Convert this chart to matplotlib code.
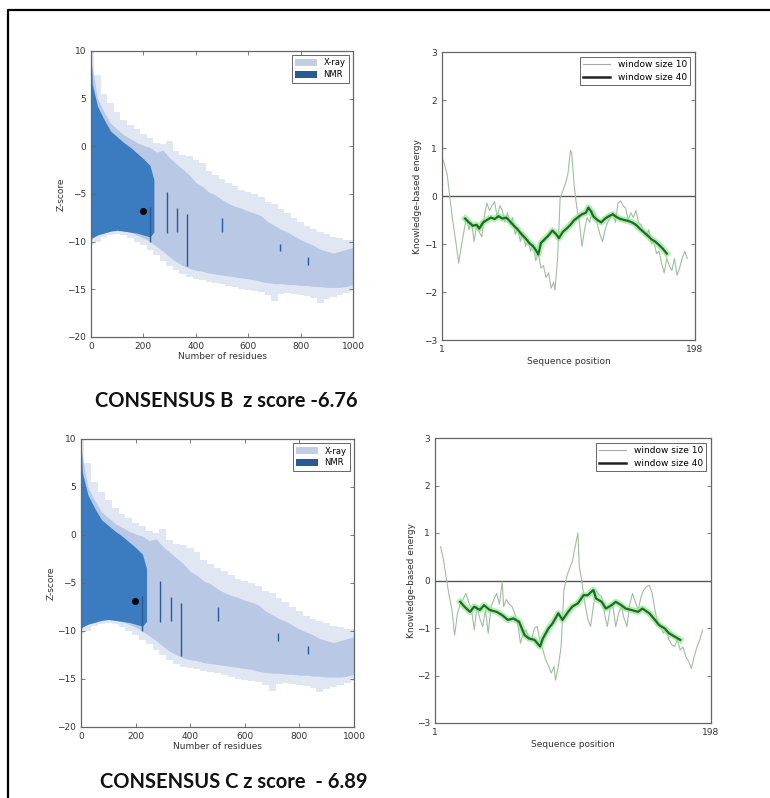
import numpy as np
import matplotlib
matplotlib.use('Agg')
import matplotlib.pyplot as plt
from matplotlib.patches import Patch
from matplotlib.lines import Line2D
import matplotlib.patheffects as pe

# ---- z-score background (PDB structures), same for both models ----
res_grid = [0, 25, 50, 75, 100, 125, 150, 175, 200, 225, 250, 275, 300, 325, 350,
            375, 400, 425, 450, 475, 500, 525, 550, 575, 600, 625, 650, 675, 700,
            725, 750, 775, 800, 825, 850, 875, 900, 925, 950, 975, 1000]
xray_top = [9.0, 5.0, 3.6, 2.4, 1.8, 1.2, 0.8, 0.4, 0.1, -0.1, -0.6, -0.4, -1.2, -1.8,
            -2.4, -3.0, -3.8, -4.2, -4.8, -5.1, -5.6, -6.0, -6.3, -6.5, -6.8, -7.0,
            -7.3, -7.9, -8.3, -8.7, -9.0, -9.4, -9.8, -10.1, -10.4, -10.8, -11.0,
            -11.2, -11.0, -10.8, -10.6]
xray_bottom = [-9.5, -9.2, -9.0, -8.8, -8.7, -8.8, -9.0, -9.3, -9.6, -10.0, -10.5,
               -11.0, -11.6, -12.1, -12.5, -12.8, -13.0, -13.1, -13.3, -13.4, -13.5,
               -13.6, -13.7, -13.8, -13.9, -14.0, -14.2, -14.3, -14.4, -14.4, -14.5,
               -14.5, -14.6, -14.6, -14.7, -14.7, -14.8, -14.8, -14.8, -14.7, -14.5]
# scattered outliers around the dense band
fringe_top = [10.0, 7.5, 5.5, 4.5, 3.6, 2.8, 2.2, 1.8, 1.3, 0.9, 0.4, 0.2, 0.6, -0.5,
              -0.9, -1.0, -1.4, -1.8, -2.6, -3.0, -3.4, -3.8, -4.2, -4.6, -4.8, -5.0,
              -5.3, -5.8, -6.0, -6.6, -7.0, -7.5, -7.9, -8.4, -8.7, -9.0, -9.2, -9.5,
              -9.6, -9.8, -9.8]
fringe_bottom = [-10.3, -10.0, -9.5, -9.3, -9.2, -9.3, -9.6, -10.0, -10.4, -10.9,
                 -11.4, -12.0, -12.5, -13.0, -13.4, -13.7, -13.9, -14.0, -14.2, -14.3,
                 -14.4, -14.6, -14.8, -15.0, -15.1, -15.2, -15.3, -15.6, -16.2, -15.5,
                 -15.4, -15.5, -15.6, -15.7, -15.9, -16.4, -16.0, -15.8, -15.6, -15.4,
                 -15.2]
nmr_grid = [0, 5, 25, 50, 75, 100, 125, 150, 175, 200, 225, 240]
nmr_top = [10.0, 6.5, 4.2, 2.8, 1.6, 1.0, 0.4, -0.1, -0.7, -1.3, -2.0, -3.5]
nmr_bottom = [-9.8, -9.6, -9.3, -9.1, -8.9, -8.8, -8.9, -9.0, -9.1, -9.3, -9.5, -9.0]
streak_x = [225, 290, 330, 368, 500, 720, 830]
streak_top = [-6.4, -4.8, -6.5, -7.1, -7.5, -10.2, -11.6]
streak_bottom = [-10.0, -9.1, -9.0, -12.6, -9.0, -11.0, -12.4]

n_residues = 198
zscore_b = -6.76
zscore_c = -6.89

# ---- local energy profiles ----
b_w10_pos = [2, 5, 7, 9, 12, 14, 16, 18, 20, 22, 24, 26, 28, 30, 32, 34, 36, 38, 40,
             42, 44, 46, 48, 50, 52, 54, 56, 58, 60, 62, 64, 66, 68, 70, 72, 74, 76,
             78, 80, 82, 84, 86, 88, 89, 91, 93, 95, 97, 99, 101, 102, 104, 106, 108,
             110, 112, 114, 116, 118, 120, 122, 124, 126, 128, 130, 132, 134, 136,
             138, 140, 142, 144, 146, 148, 150, 152, 154, 156, 158, 160, 162, 164,
             166, 168, 170, 172, 174, 176, 178, 180, 182, 184, 186, 188, 190, 192]
b_w10 = [0.75, 0.45, 0.0, -0.45, -1.0, -1.4, -1.05, -0.75, -0.45, -0.7, -0.55, -0.95,
         -0.6, -0.75, -0.85, -0.4, -0.15, -0.3, -0.2, -0.12, -0.45, -0.2, -0.3, -0.55,
         -0.35, -0.6, -0.45, -0.8, -0.65, -0.95, -0.75, -1.05, -0.9, -1.15, -1.0,
         -1.35, -1.2, -1.5, -1.45, -1.7, -1.6, -1.92, -1.8, -1.96, -1.3, -0.05, 0.1,
         0.25, 0.45, 0.95, 0.9, 0.2, -0.25, -0.55, -1.05, -0.7, -0.45, -0.55, -0.3,
         -0.35, -0.6, -0.8, -0.95, -0.7, -0.55, -0.45, -0.35, -0.55, -0.15, -0.1,
         -0.2, -0.25, -0.5, -0.35, -0.45, -0.3, -0.55, -0.6, -0.75, -0.85, -0.7,
         -1.0, -0.95, -1.2, -1.15, -1.4, -1.6, -1.3, -1.45, -1.55, -1.3, -1.65, -1.5,
         -1.3, -1.15, -1.3]
b_w40_pos = [19, 22, 25, 28, 30, 33, 36, 39, 42, 45, 48, 51, 54, 57, 60, 63, 66, 69,
             72, 74, 76, 78, 81, 84, 87, 90, 92, 95, 98, 101, 104, 107, 110, 113, 115,
             117, 119, 122, 125, 128, 131, 134, 137, 140, 143, 146, 149, 152, 155,
             158, 161, 164, 167, 170, 173, 176]
b_w40 = [-0.47, -0.55, -0.62, -0.6, -0.68, -0.55, -0.5, -0.45, -0.48, -0.42, -0.47,
         -0.45, -0.53, -0.62, -0.7, -0.8, -0.88, -0.98, -1.05, -1.12, -1.22, -0.98,
         -0.9, -0.82, -0.72, -0.8, -0.88, -0.75, -0.68, -0.6, -0.5, -0.44, -0.38,
         -0.35, -0.24, -0.32, -0.43, -0.5, -0.55, -0.47, -0.42, -0.38, -0.44, -0.48,
         -0.5, -0.52, -0.55, -0.6, -0.68, -0.75, -0.82, -0.9, -0.95, -1.02, -1.1, -1.2]

c_w10_pos = [5, 7, 9, 11, 13, 15, 17, 19, 21, 23, 25, 27, 29, 31, 33, 35, 37, 39, 41,
             43, 45, 47, 49, 50, 52, 54, 56, 58, 60, 62, 64, 66, 68, 70, 72, 74, 76,
             78, 80, 82, 84, 86, 87, 89, 91, 93, 95, 97, 99, 101, 103, 104, 106, 108,
             110, 112, 114, 116, 118, 120, 122, 124, 126, 128, 130, 132, 134, 136,
             138, 140, 142, 144, 146, 148, 150, 152, 154, 156, 158, 160, 162, 164,
             166, 168, 170, 172, 174, 176, 178, 180, 182, 184, 186, 188, 190, 192]
c_w10 = [0.71, 0.45, 0.05, -0.3, -0.6, -1.15, -0.7, -0.5, -0.4, -0.27, -0.45, -0.6,
         -1.04, -0.55, -0.8, -0.97, -0.62, -1.11, -0.55, -0.4, -0.27, -0.5, -0.03,
         -0.55, -0.4, -0.5, -0.55, -0.7, -0.9, -1.32, -1.1, -1.04, -1.2, -1.25, -1.0,
         -0.97, -1.3, -1.46, -1.67, -1.8, -1.95, -1.81, -2.1, -1.81, -1.39, -0.2, 0.08,
         0.25, 0.4, 0.71, 1.0, 0.3, -0.06, -0.48, -0.8, -0.97, -0.55, -0.2, -0.3,
         -0.34, -0.7, -0.97, -0.6, -0.55, -0.97, -0.7, -0.55, -0.8, -0.97, -0.5,
         -0.27, -0.45, -0.62, -0.35, -0.2, -0.13, -0.1, -0.27, -0.62, -0.9, -0.95,
         -1.11, -1.05, -1.25, -1.35, -1.39, -1.25, -1.46, -1.4, -1.6, -1.7, -1.85,
         -1.6, -1.4, -1.25, -1.04]
c_w40_pos = [19, 22, 26, 29, 33, 36, 40, 45, 49, 53, 57, 61, 65, 68, 72, 76, 78, 82,
             85, 89, 92, 96, 99, 103, 107, 110, 114, 116, 120, 123, 127, 130, 134,
             137, 141, 146, 149, 154, 158, 161, 165, 168, 172, 176]
c_w40 = [-0.45, -0.55, -0.66, -0.55, -0.62, -0.52, -0.62, -0.66, -0.73, -0.83, -0.8,
         -0.87, -1.15, -1.22, -1.25, -1.39, -1.22, -1.01, -0.9, -0.69, -0.83, -0.66,
         -0.55, -0.48, -0.31, -0.31, -0.2, -0.38, -0.45, -0.59, -0.52, -0.45, -0.52,
         -0.59, -0.62, -0.66, -0.59, -0.69, -0.83, -0.94, -1.01, -1.11, -1.18, -1.25]

XRAY_DENSE = '#b9c8e4'
XRAY_FRINGE = '#e0e7f3'
NMR_COL = '#3a7cbf'
NMR_DARK = '#2a5a95'
TXT = '#333333'
SPINE = '#666666'


def style_axes(ax):
    for s in ax.spines.values():
        s.set_color(SPINE)
        s.set_linewidth(0.9)
    ax.tick_params(direction='in', length=3, width=0.6, colors=SPINE,
                   labelcolor=TXT, labelsize=6.5, top=True, right=True)


def zscore_panel(ax, zval):
    ax.fill_between(res_grid, fringe_bottom, fringe_top, step='mid',
                    color=XRAY_FRINGE, lw=0)
    ax.fill_between(res_grid, xray_bottom, xray_top, color=XRAY_DENSE, lw=0)
    ax.fill_between(nmr_grid, nmr_bottom, nmr_top, color=NMR_COL, lw=0)
    ax.vlines(streak_x, streak_bottom, streak_top, color=NMR_DARK, lw=1.0)
    ax.plot([n_residues], [zval], 'o', color='black', ms=4)
    ax.set_xlim(0, 1000)
    ax.set_ylim(-20, 10)
    ax.set_xticks([0, 200, 400, 600, 800, 1000])
    ax.set_yticks([-20, -15, -10, -5, 0, 5, 10])
    ax.set_xlabel('Number of residues', fontsize=6.5, color=TXT, labelpad=1)
    ax.set_ylabel('Z-score', fontsize=6.5, color=TXT, labelpad=1)
    style_axes(ax)
    handles = [Patch(facecolor='#c3cee5', edgecolor='none', label='X-ray'),
               Patch(facecolor=NMR_DARK, edgecolor='none', label='NMR')]
    leg = ax.legend(handles=handles, loc='upper right', fontsize=6, fancybox=False,
                    handlelength=2.6, handleheight=0.8, borderpad=0.4,
                    labelspacing=0.35, framealpha=1)
    leg.get_frame().set_edgecolor(SPINE)
    leg.get_frame().set_linewidth(0.7)


def energy_panel(ax, x10, y10, x40, y40):
    ax.axhline(0, color='#555555', lw=1.0)
    ax.plot(x10, y10, color='#9fbf9f', lw=0.8)
    ax.plot(x40, y40, color='#1d6b25', lw=1.6,
            path_effects=[pe.Stroke(linewidth=4.5, foreground='#8fe68f', alpha=0.7),
                          pe.Normal()])
    ax.set_xlim(1, n_residues)
    ax.set_ylim(-3, 3)
    ax.set_xticks([1, n_residues])
    ax.set_yticks([-3, -2, -1, 0, 1, 2, 3])
    ax.set_xlabel('Sequence position', fontsize=6.5, color=TXT, labelpad=2)
    ax.set_ylabel('Knowledge-based energy', fontsize=6.5, color=TXT, labelpad=1)
    style_axes(ax)
    handles = [Line2D([], [], color='#a8a8a8', lw=0.8, label='window size 10'),
               Line2D([], [], color='#222222', lw=1.8, label='window size 40')]
    leg = ax.legend(handles=handles, loc='upper right', fontsize=6.5, fancybox=False,
                    handlelength=3.0, borderpad=0.4, labelspacing=0.4, framealpha=1)
    leg.get_frame().set_edgecolor(SPINE)
    leg.get_frame().set_linewidth(0.7)


W, H = 770, 798
fig = plt.figure(figsize=(W / 100, H / 100), dpi=100)

def px_axes(x0, y0, x1, y1):
    return fig.add_axes([x0 / W, 1 - y1 / H, (x1 - x0) / W, (y1 - y0) / H])

ax1 = px_axes(91, 51, 353, 337)
ax2 = px_axes(442, 52, 695, 340)
ax3 = px_axes(81, 439, 354, 727)
ax4 = px_axes(435, 438, 711, 723)

zscore_panel(ax1, zscore_b)
zscore_panel(ax3, zscore_c)
energy_panel(ax2, b_w10_pos, b_w10, b_w40_pos, b_w40)
energy_panel(ax4, c_w10_pos, c_w10, c_w40_pos, c_w40)

fig.text(226 / W, 1 - 401 / H, 'CONSENSUS B  z score %.2f' % zscore_b,
         ha='center', va='center', fontsize=14.5, fontweight='bold',
         family=['Lato', 'DejaVu Sans'], color='#111111')
fig.text(234 / W, 1 - 782 / H, 'CONSENSUS C z score  - %.2f' % abs(zscore_c),
         ha='center', va='center', fontsize=14.5, fontweight='bold',
         family=['Lato', 'DejaVu Sans'], color='#111111')

# frame lines on the left and top edges
fig.add_artist(Line2D([8 / W, 8 / W, 1], [0, 1 - 10 / H, 1 - 10 / H],
                      transform=fig.transFigure, color='black', lw=1.6))

fig.savefig('out.png', dpi=100)
